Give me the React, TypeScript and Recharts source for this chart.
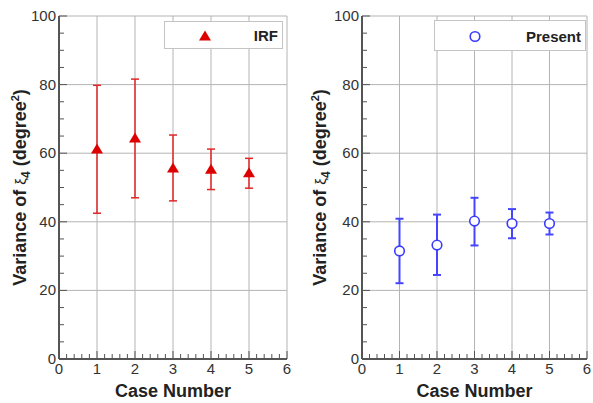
import React from 'react';
import {
  CartesianGrid,
  ErrorBar,
  Legend,
  Scatter,
  ScatterChart,
  XAxis,
  YAxis,
} from 'recharts';

// values
const cases = [1, 2, 3, 4, 5];
const irfMean = [61.2, 64.4, 55.7, 55.3, 54.3];
const irfLow = [42.5, 47.0, 46.1, 49.4, 49.8];
const irfHigh = [79.8, 81.6, 65.3, 61.2, 58.5];
const presentMean = [31.5, 33.2, 40.2, 39.5, 39.5];
const presentLow = [22.1, 24.5, 33.1, 35.2, 36.3];
const presentHigh = [40.9, 42.1, 47.0, 43.7, 42.7];

const xMajor = [0, 1, 2, 3, 4, 5, 6];
const yMajor = [0, 20, 40, 60, 80, 100];

// minor ticks: 5 steps per unit on x, 4 steps per 20 on y
const xTicks = xMajor.flatMap((v, i) =>
  i === xMajor.length - 1 ? [v] : [0, 1, 2, 3, 4].map((k) => v + k * 0.2),
);
const yTicks = yMajor.flatMap((v, i) =>
  i === yMajor.length - 1 ? [v] : [0, 1, 2, 3].map((k) => v + k * 5),
);

const buildRows = (mean: number[], low: number[], high: number[]) =>
  cases.map((c, i) => ({
    x: c,
    y: mean[i],
    err: [mean[i] - low[i], high[i] - mean[i]],
  }));

const irfRows = buildRows(irfMean, irfLow, irfHigh);
const presentRows = buildRows(presentMean, presentLow, presentHigh);

const FONT = '"Liberation Sans", Arial, sans-serif';
const AXIS = '#555';
const RED = '#dd0000';
const BLUE = '#3a3aff';

const Triangle = ({ cx, cy }: { cx?: number; cy?: number }) => {
  if (cx == null || cy == null) return null;
  return (
    <polygon
      points={`${cx},${cy - 5.5} ${cx - 6},${cy + 4.5} ${cx + 6},${cy + 4.5}`}
      fill={RED}
    />
  );
};

const Circle = ({ cx, cy }: { cx?: number; cy?: number }) => {
  if (cx == null || cy == null) return null;
  return <circle cx={cx} cy={cy} r={4.8} fill="#fff" stroke={BLUE} strokeWidth={1.6} />;
};

const XTick = (props: any) => {
  const { x, y, payload } = props;
  const v = payload.value as number;
  const major = Math.abs(v - Math.round(v)) < 1e-6;
  return (
    <g>
      <line x1={x} y1={y} x2={x} y2={y - (major ? 8 : 5)} stroke={AXIS} strokeWidth={1} />
      {major && (
        <text x={x} y={y + 15} textAnchor="middle" fontSize={15} fill="#333" fontFamily={FONT}>
          {Math.round(v)}
        </text>
      )}
    </g>
  );
};

const YTick = (props: any) => {
  const { x, y, payload } = props;
  const v = payload.value as number;
  const major = v % 20 === 0;
  return (
    <g>
      <line x1={x} y1={y} x2={x + (major ? 8 : 5)} y2={y} stroke={AXIS} strokeWidth={1} />
      {major && (
        <text x={x - 3} y={y + 5} textAnchor="end" fontSize={15} fill="#333" fontFamily={FONT}>
          {v}
        </text>
      )}
    </g>
  );
};

const YTitle = (props: any) => {
  const vb = props.viewBox || { x: 0, y: 16, width: 59, height: 343 };
  const cx = vb.x + 26;
  const cy = vb.y + vb.height / 2;
  return (
    <text
      transform={`translate(${cx},${cy}) rotate(-90)`}
      textAnchor="middle"
      fontSize={18}
      fontWeight="bold"
      fill="#222"
      fontFamily={FONT}
    >
      Variance of{' '}
      <tspan fontWeight="normal" fontSize={15}>
        ξ
      </tspan>
      <tspan dy={4} fontSize={12}>
        4
      </tspan>
      <tspan dy={-4}> (degree</tspan>
      <tspan dy={-7} fontSize={11}>
        2
      </tspan>
      <tspan dy={7}>)</tspan>
    </text>
  );
};

const LegendBox = ({
  width,
  height,
  markX,
  label,
  kind,
}: {
  width: number;
  height: number;
  markX: number;
  label: string;
  kind: 'tri' | 'circ';
}) => (
  <svg width={width} height={height} style={{ display: 'block' }}>
    <rect x={0.5} y={0.5} width={width - 1} height={height - 1} fill="#fff" stroke="#c4c4c4" />
    {kind === 'tri' ? (
      <Triangle cx={markX} cy={height / 2 + 1} />
    ) : (
      <Circle cx={markX} cy={height / 2 + 1} />
    )}
    <text
      x={width - 5}
      y={height / 2 + 6}
      textAnchor="end"
      fontSize={15}
      fontWeight="bold"
      fill="#222"
      fontFamily={FONT}
    >
      {label}
    </text>
  </svg>
);

interface PanelProps {
  rows: { x: number; y: number; err: number[] }[];
  width: number;
  yAxisWidth: number;
  rightMargin: number;
  color: string;
  kind: 'tri' | 'circ';
  label: string;
  legend: { top: number; left: number; width: number; height: number; markX: number };
}

function Panel({ rows, width, yAxisWidth, rightMargin, color, kind, label, legend }: PanelProps) {
  return (
    <ScatterChart
      width={width}
      height={403}
      margin={{ top: 16, right: rightMargin, bottom: 0, left: 0 }}
      style={{ fontFamily: FONT }}
    >
      <CartesianGrid
        stroke="#b4b4b4"
        strokeWidth={1}
        verticalValues={xMajor}
        horizontalValues={yMajor}
      />
      <XAxis
        type="number"
        dataKey="x"
        domain={[0, 6]}
        ticks={xTicks}
        interval={0}
        height={44}
        tickSize={0}
        tickMargin={0}
        tickLine={false}
        tick={<XTick />}
        axisLine={{ stroke: AXIS, strokeWidth: 2 }}
        label={{
          value: 'Case Number',
          position: 'insideBottom',
          offset: 6,
          fontSize: 18,
          fontWeight: 'bold',
          fill: '#222',
        }}
      />
      <YAxis
        type="number"
        dataKey="y"
        domain={[0, 100]}
        ticks={yTicks}
        interval={0}
        width={yAxisWidth}
        tickSize={0}
        tickMargin={0}
        tickLine={false}
        tick={<YTick />}
        axisLine={{ stroke: AXIS, strokeWidth: 2 }}
        label={{ content: <YTitle /> }}
      />
      <XAxis
        xAxisId="top"
        orientation="top"
        type="number"
        domain={[0, 6]}
        height={0}
        tick={false}
        tickLine={false}
        axisLine={{ stroke: AXIS, strokeWidth: 2 }}
      />
      <YAxis
        yAxisId="right"
        orientation="right"
        type="number"
        domain={[0, 100]}
        width={0}
        tick={false}
        tickLine={false}
        axisLine={{ stroke: AXIS, strokeWidth: 2 }}
      />
      <Legend
        verticalAlign="middle"
        align="center"
        wrapperStyle={{
          top: legend.top,
          left: legend.left,
          width: legend.width,
          height: legend.height,
        }}
        content={() => (
          <LegendBox
            width={legend.width}
            height={legend.height}
            markX={legend.markX}
            label={label}
            kind={kind}
          />
        )}
      />
      <Scatter
        name={label}
        data={rows}
        isAnimationActive={false}
        shape={kind === 'tri' ? <Triangle /> : <Circle />}
      >
        <ErrorBar
          dataKey="err"
          direction="y"
          width={4}
          stroke={color}
          strokeWidth={kind === 'tri' ? 1.5 : 2}
          isAnimationActive={false}
        />
      </Scatter>
    </ScatterChart>
  );
}

export default function App() {
  return (
    <div
      style={{
        position: 'absolute',
        left: 0,
        top: 0,
        width: 593,
        height: 403,
        background: '#fff',
        fontFamily: FONT,
      }}
    >
      <div style={{ position: 'absolute', left: 0, top: 0 }}>
        <Panel
          rows={irfRows}
          width={300}
          yAxisWidth={59}
          rightMargin={13}
          color="#e02828"
          kind="tri"
          label="IRF"
          legend={{ top: 21, left: 164, width: 119, height: 28, markX: 41 }}
        />
      </div>
      <div style={{ position: 'absolute', left: 300, top: 0 }}>
        <Panel
          rows={presentRows}
          width={293}
          yAxisWidth={62}
          rightMargin={6}
          color="#4545ff"
          kind="circ"
          label="Present"
          legend={{ top: 20, left: 134, width: 152, height: 31, markX: 41 }}
        />
      </div>
    </div>
  );
}
